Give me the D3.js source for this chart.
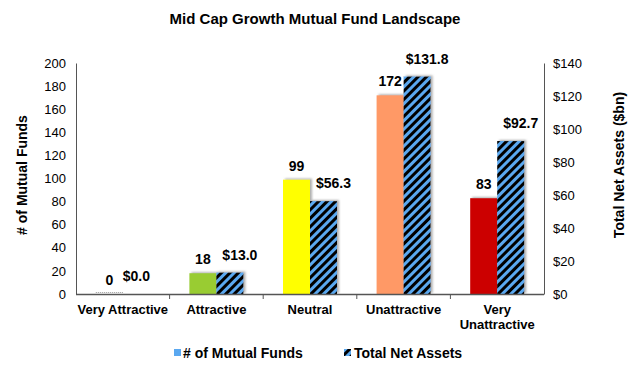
<!DOCTYPE html>
<html>
<head>
<meta charset="utf-8">
<script src="https://cdn.jsdelivr.net/npm/d3@7"></script>
<style>
  body { margin: 0; background: #fff; }
  svg { font-family: "Liberation Sans", Arial, sans-serif; }
</style>
</head>
<body>
<div id="chart"></div>
<script>
// data
const categories = ["Very Attractive", "Attractive", "Neutral", "Unattractive", "Very Unattractive"];
const fundCounts = [0, 18, 99, 172, 83];
const netAssets = [0.0, 13.0, 56.3, 131.8, 92.7];
const countColors = ["#bfbfbf", "#99cc33", "#ffff00", "#ff9966", "#cc0000"];
const leftTicks = [0, 20, 40, 60, 80, 100, 120, 140, 160, 180, 200];
const rightTicks = [0, 20, 40, 60, 80, 100, 120, 140];

const width = 630, height = 368;
const margin = {top: 63, right: 86, bottom: 74, left: 76};
const x0 = margin.left, x1 = width - margin.right, yTop = margin.top, yBot = height - margin.bottom;

const svg = d3.select("#chart").append("svg")
    .attr("width", width)
    .attr("height", height);

const defs = svg.append("defs");
const pat = defs.append("pattern")
    .attr("id", "hatch")
    .attr("patternUnits", "userSpaceOnUse")
    .attr("width", 6).attr("height", 6)
    .attr("patternTransform", "rotate(45)");
pat.append("rect").attr("width", 6).attr("height", 6).attr("fill", "#000");
pat.append("rect").attr("width", 3).attr("height", 6).attr("fill", "#5aa8f0");

const shadow = defs.append("filter").attr("id", "shadow")
    .attr("x", "-30%").attr("y", "-30%").attr("width", "160%").attr("height", "160%");
shadow.append("feDropShadow")
    .attr("dx", 2).attr("dy", -1).attr("stdDeviation", 1.2)
    .attr("flood-color", "#777").attr("flood-opacity", 0.6);

const x = d3.scaleBand().domain(categories).range([x0, x1]);
const yL = d3.scaleLinear().domain([0, 200]).range([yBot, yTop]);
const yR = d3.scaleLinear().domain([0, 140]).range([yBot, yTop]);
const barW = 27;

// title
svg.append("text")
    .attr("x", width / 2).attr("y", 24)
    .attr("text-anchor", "middle")
    .attr("font-size", 15).attr("font-weight", "bold")
    .text("Mid Cap Growth Mutual Fund Landscape");

// left axis
const gL = svg.append("g").attr("transform", `translate(${x0},0)`)
    .call(d3.axisLeft(yL).tickValues(leftTicks).tickSize(0).tickPadding(10));
gL.select(".domain").attr("stroke", "#555");
gL.selectAll("text").attr("font-size", 13).attr("font-family", "Liberation Sans, Arial").attr("fill", "#000");

// right axis
const gR = svg.append("g").attr("transform", `translate(${x1},0)`)
    .call(d3.axisRight(yR).tickValues(rightTicks).tickSize(0).tickPadding(9).tickFormat(d => "$" + d));
gR.select(".domain").attr("stroke", "#555");
gR.selectAll("text").attr("font-size", 13).attr("font-family", "Liberation Sans, Arial").attr("fill", "#000");

// bars
const groups = svg.append("g").selectAll("g")
    .data(categories)
    .join("g")
    .attr("transform", d => `translate(${x(d) + x.bandwidth() / 2},0)`);

groups.append("rect")
    .attr("x", -barW).attr("width", barW)
    .attr("y", (d, i) => yL(fundCounts[i]))
    .attr("height", (d, i) => yBot - yL(fundCounts[i]))
    .attr("fill", (d, i) => countColors[i])
    .attr("filter", "url(#shadow)");

groups.append("rect")
    .attr("x", 0).attr("width", barW)
    .attr("y", (d, i) => yR(netAssets[i]))
    .attr("height", (d, i) => yBot - yR(netAssets[i]))
    .attr("fill", "url(#hatch)")
    .attr("filter", "url(#shadow)");

// zero bar placeholder line
svg.append("line")
    .attr("x1", x(categories[0]) + x.bandwidth() / 2 - barW).attr("x2", x(categories[0]) + x.bandwidth() / 2)
    .attr("y1", yBot - 1.5).attr("y2", yBot - 1.5)
    .attr("stroke", "#999").attr("stroke-dasharray", "1,1");

// baseline with ticks
svg.append("line")
    .attr("x1", x0).attr("x2", x1).attr("y1", yBot + 0.5).attr("y2", yBot + 0.5)
    .attr("stroke", "#555").attr("stroke-width", 1.5);
svg.append("g").selectAll("line")
    .data(categories.slice(1))
    .join("line")
    .attr("x1", d => x(d)).attr("x2", d => x(d))
    .attr("y1", yBot).attr("y2", yBot + 5)
    .attr("stroke", "#555");

// data labels
groups.append("text")
    .attr("x", -barW / 2)
    .attr("y", (d, i) => yL(fundCounts[i]) - 9)
    .attr("text-anchor", "middle")
    .attr("font-size", 14).attr("font-weight", "bold")
    .text((d, i) => fundCounts[i]);

groups.append("text")
    .attr("x", (d, i) => barW / 2 + (netAssets[i] > 0 ? 10 : 0))
    .attr("y", (d, i) => yR(netAssets[i]) - 13)
    .attr("text-anchor", "middle")
    .attr("font-size", 14).attr("font-weight", "bold")
    .text((d, i) => "$" + netAssets[i].toFixed(1));

// category labels
const catText = svg.append("g").selectAll("text")
    .data(categories)
    .join("text")
    .attr("x", d => x(d) + x.bandwidth() / 2)
    .attr("y", yBot + 20)
    .attr("text-anchor", "middle")
    .attr("font-size", 13).attr("font-weight", "bold");
catText.each(function(d) {
    const t = d3.select(this);
    const lines = d === "Very Unattractive" ? ["Very", "Unattractive"] : [d];
    lines.forEach((l, i) => t.append("tspan")
        .attr("x", x(d) + x.bandwidth() / 2)
        .attr("dy", i === 0 ? 0 : 15)
        .text(l));
});

// axis titles
svg.append("text")
    .attr("transform", "translate(27,175) rotate(-90)")
    .attr("text-anchor", "middle")
    .attr("font-size", 14).attr("font-weight", "bold")
    .text("# of Mutual Funds");
svg.append("text")
    .attr("transform", "translate(624,165) rotate(-90)")
    .attr("text-anchor", "middle")
    .attr("font-size", 14).attr("font-weight", "bold")
    .text("Total Net Assets ($bn)");

// legend
const legend = svg.append("g").attr("transform", "translate(0,353)");
legend.append("rect").attr("x", 174).attr("y", -4).attr("width", 7).attr("height", 7).attr("fill", "#5aa8f0");
legend.append("text").attr("x", 183).attr("y", 0).attr("dy", "0.35em")
    .attr("font-size", 14).attr("font-weight", "bold").text("# of Mutual Funds");
legend.append("rect").attr("x", 344).attr("y", -4).attr("width", 7).attr("height", 7).attr("fill", "url(#hatch)");
legend.append("text").attr("x", 354).attr("y", 0).attr("dy", "0.35em")
    .attr("font-size", 14).attr("font-weight", "bold").text("Total Net Assets");
</script>
</body>
</html>
